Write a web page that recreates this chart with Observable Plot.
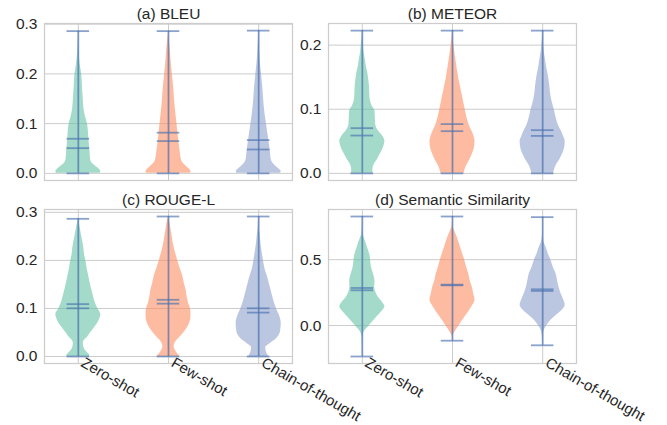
<!DOCTYPE html>
<html><head><meta charset="utf-8">
<script src="https://cdn.jsdelivr.net/npm/d3@7"></script>
<script src="https://cdn.jsdelivr.net/npm/@observablehq/plot@0.6"></script>
<style>
body{margin:0;background:#fff;}
#chart{position:relative;width:667px;height:425px;font-family:"Liberation Sans",Arial,sans-serif;}
#chart .pane{position:absolute;}
#chart svg{overflow:visible;background:transparent;}
</style></head><body><div id="chart"></div>
<script>
const methods = ["Zero-shot", "Few-shot", "Chain-of-thought"];
const panelTitles = ["(a) BLEU", "(b) METEOR", "(c) ROUGE-L", "(d) Semantic Similarity"];
const fillColors = ["#66c2a5", "#fc8d62", "#8da0cb"];
const lineColor = "#4c72b0";

// y tick values per panel
const ticksA = [0, 0.1, 0.2, 0.3];
const ticksB = [0, 0.1, 0.2];
const ticksC = [0, 0.1, 0.2, 0.3];
const ticksD = [0, 0.5];

// per method: [min, max, mean, median]
const bleuStats = [[0, 0.286, 0.0696, 0.0507], [0, 0.286, 0.0818, 0.0649], [0, 0.287, 0.0669, 0.048]];
const meteorStats = [[0, 0.2226, 0.0705, 0.059], [0, 0.2226, 0.0768, 0.0658], [0, 0.2226, 0.0674, 0.0584]];
const rougeStats = [[0, 0.2866, 0.109, 0.1003], [0, 0.2914, 0.118, 0.11], [0, 0.2914, 0.1003, 0.0914]];
const semStats = [[-0.235, 0.8275, 0.285, 0.2675], [-0.115, 0.8275, 0.31, 0.305], [-0.15, 0.8225, 0.275, 0.2625]];

// density profiles: [value, relative density]
const bleuZero = [[0,62],[0.004,64],[0.008,60],[0.0135,51],[0.02,40],[0.027,35],[0.045,33],[0.06,31],[0.08,29],[0.1,26],[0.115,20],[0.13,16],[0.15,14],[0.17,12],[0.2,9.5],[0.22,5],[0.24,2.5],[0.26,1],[0.286,0]];
const bleuFew = [[0,62],[0.004,64],[0.008,60],[0.0135,52],[0.02,42],[0.03,36],[0.045,33],[0.06,30],[0.08,27],[0.1,24],[0.12,21],[0.14,18],[0.17,15],[0.2,11],[0.22,8],[0.24,6],[0.26,3.5],[0.286,0]];
const bleuCot = [[0,62],[0.004,64],[0.008,59],[0.0135,50],[0.02,41],[0.03,35],[0.045,33],[0.06,30],[0.08,26],[0.1,22],[0.12,18],[0.14,15],[0.17,12],[0.2,8],[0.22,5],[0.24,3],[0.26,1.5],[0.287,0]];

const meteorZero = [[0,31],[0.005,30],[0.013,33],[0.021,42],[0.032,53],[0.042,61],[0.05,64],[0.058,58],[0.066,46],[0.076,38],[0.087,37],[0.097,36],[0.105,28],[0.116,22],[0.126,21],[0.137,20],[0.147,18],[0.158,15],[0.168,11],[0.179,8],[0.189,5],[0.2,3],[0.21,1],[0.2226,0]];
const meteorFew = [[0,33],[0.005,35],[0.013,41],[0.021,49],[0.032,58],[0.042,63],[0.05,64],[0.058,61],[0.066,55],[0.076,47],[0.087,41],[0.097,37],[0.105,34],[0.116,30],[0.126,26],[0.137,22],[0.147,18],[0.158,15],[0.168,12],[0.179,9],[0.189,6.5],[0.2,4],[0.21,2],[0.2226,0]];
const meteorCot = [[0,31],[0.005,33],[0.013,39],[0.021,48],[0.032,58],[0.042,63],[0.05,64],[0.058,59],[0.066,53],[0.076,44],[0.087,38],[0.097,34],[0.105,30],[0.116,25],[0.126,22],[0.137,20],[0.147,17.5],[0.158,14],[0.168,10.5],[0.179,7.5],[0.189,4.5],[0.2,2.5],[0.21,1],[0.2226,0]];

const rougeZero = [[0,33],[0.004,31],[0.011,22],[0.018,16],[0.028,14],[0.042,28],[0.056,42],[0.069,55],[0.083,63],[0.087,64],[0.1,55],[0.114,47],[0.128,42],[0.142,37],[0.155,33],[0.169,29],[0.183,25],[0.197,22],[0.21,18],[0.224,16],[0.238,13],[0.252,9],[0.265,6],[0.279,2],[0.2866,0]];
const rougeFew = [[0,33],[0.0096,22],[0.021,16],[0.0316,22],[0.042,35],[0.0557,50],[0.069,60],[0.083,64],[0.097,63],[0.111,57],[0.124,53],[0.138,50],[0.152,45],[0.169,40],[0.183,33],[0.197,27],[0.21,22],[0.224,17],[0.238,13],[0.252,10],[0.265,7],[0.279,4],[0.2914,0]];
const rougeCot = [[0,28],[0.0096,22],[0.018,20],[0.028,35],[0.038,52],[0.052,62],[0.069,64],[0.083,60],[0.097,52],[0.111,45],[0.124,40],[0.138,35],[0.152,30],[0.166,25],[0.179,19],[0.193,15],[0.207,12],[0.221,9],[0.238,6],[0.252,4],[0.265,2],[0.279,1],[0.2914,0]];

const semZero = [[-0.235,0],[-0.1,0.5],[-0.07,2],[-0.045,6],[-0.0075,18],[0.03,30],[0.0675,42],[0.105,55],[0.1425,64],[0.18,56],[0.2175,45],[0.255,38],[0.2925,35],[0.33,36],[0.3675,34],[0.405,30],[0.4425,26],[0.48,24],[0.53,22],[0.58,16],[0.63,10],[0.6675,5],[0.6925,1.5],[0.75,0.3],[0.8275,0]];
const semFew = [[-0.115,0],[-0.0825,1],[-0.045,8],[0.005,20],[0.055,33],[0.105,46],[0.155,58],[0.1925,64],[0.2425,60],[0.2925,56],[0.3425,50],[0.3925,46],[0.4425,40],[0.4925,35],[0.5425,29],[0.5925,23],[0.6425,17],[0.6925,10],[0.73,4],[0.76,1],[0.8275,0]];
const semCot = [[-0.15,0],[-0.07,1.5],[-0.0325,5],[0.005,13],[0.0425,24],[0.08,40],[0.1175,56],[0.155,64],[0.1925,60],[0.2425,52],[0.2925,46],[0.3425,42],[0.3925,38],[0.4425,30],[0.4925,24],[0.5425,16],[0.5925,10],[0.63,4],[0.66,1.5],[0.72,0.3],[0.8225,0]];

const panels = [
  {title: panelTitles[0], profiles: [bleuZero, bleuFew, bleuCot], stats: bleuStats, ticks: ticksA, left: 0, top: 0, height: 190, mt: 23, mb: 10, mr: 9, labels: false},
  {title: panelTitles[1], profiles: [meteorZero, meteorFew, meteorCot], stats: meteorStats, ticks: ticksB, left: 284, top: 0, height: 190, mt: 23, mb: 10, mr: 9, labels: false},
  {title: panelTitles[2], profiles: [rougeZero, rougeFew, rougeCot], stats: rougeStats, ticks: ticksC, left: 0, top: 190, height: 235, mt: 19, mb: 62, mr: 80, labels: true},
  {title: panelTitles[3], profiles: [semZero, semFew, semCot], stats: semStats, ticks: ticksD, left: 284, top: 190, height: 235, mt: 19, mb: 62, mr: 80, labels: true}
];

const FONT = 15.5;
const LABEL_FONT = 15;
const TXT = "#262626";
const FRAME_W = 248;
const root = document.getElementById("chart");

for (const p of panels) {
  const rows = [];
  p.profiles.forEach((prof, i) => {
    const m = d3.max(prof, d => d[1]);
    prof.forEach(([v, d]) => rows.push({k: i, y: v, x1: i + 1 - 0.25 * d / m, x2: i + 1 + 0.25 * d / m}));
  });
  const stats = p.stats.map((s, i) => ({pos: i + 1, min: s[0], max: s[1], mean: s[2], median: s[3]}));
  const lo = d3.min(stats, d => d.min), hi = d3.max(stats, d => d.max), pad = (hi - lo) * 0.05;
  const caps = stats.flatMap(s => [s.min, s.max, s.mean, s.median].map(v => ({pos: s.pos, v})));
  const marks = [
    Plot.gridY(p.ticks, {stroke: "#cccccc", strokeOpacity: 1, strokeWidth: 1}),
    Plot.gridX([1, 2, 3], {stroke: "#cccccc", strokeOpacity: 1, strokeWidth: 1}),
    ...[0, 1, 2].map(i => Plot.areaX(rows.filter(r => r.k === i), {y: "y", x1: "x1", x2: "x2", fill: fillColors[i], fillOpacity: 0.6, curve: "monotone-y"})),
    Plot.ruleX(stats, {x: "pos", y1: "min", y2: "max", stroke: lineColor, strokeOpacity: 0.65, strokeWidth: 1.8}),
    Plot.ruleY(caps, {y: "v", x1: d => d.pos - 0.125, x2: d => d.pos + 0.125, stroke: lineColor, strokeOpacity: 0.65, strokeWidth: 1.8}),
    Plot.frame({stroke: "#cccccc", strokeWidth: 1.25}),
    Plot.axisY(p.ticks, {tickSize: 0, tickPadding: 7, tickFormat: d3.format(".1f"), fontSize: FONT, fill: TXT, label: null}),
    Plot.text([p.title], {text: d => d, frameAnchor: "top", lineAnchor: "bottom", dy: -5, fontSize: FONT, fill: TXT})
  ];
  if (p.labels) {
    marks.push(Plot.text(methods, {x: (d, i) => i + 1, text: d => d, frameAnchor: "bottom", rotate: 30, textAnchor: "start", lineAnchor: "top", dx: 7, dy: -7, fontSize: LABEL_FONT, fill: TXT}));
  }
  const svg = Plot.plot({
    width: 44 + FRAME_W + p.mr,
    height: p.height,
    marginLeft: 44,
    marginRight: p.mr,
    marginTop: p.mt,
    marginBottom: p.mb,
    x: {domain: [0.625, 3.375], axis: null},
    y: {domain: [lo - pad, hi + pad]},
    style: {fontFamily: '"Liberation Sans", Arial, sans-serif', background: "transparent", overflow: "visible"},
    marks
  });
  const pane = document.createElement("div");
  pane.className = "pane";
  pane.style.left = p.left + "px";
  pane.style.top = p.top + "px";
  pane.appendChild(svg);
  root.appendChild(pane);
}
</script>
</body></html>
